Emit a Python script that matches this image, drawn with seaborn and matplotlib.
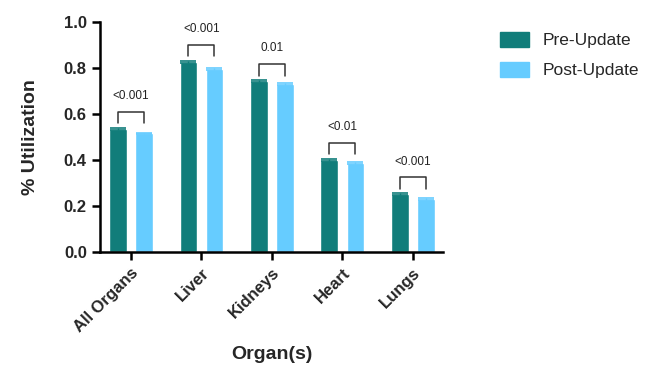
import matplotlib.pyplot as plt
import seaborn as sns
import pandas as pd
import numpy as np

# DATA
organs = ["All Organs", "Liver", "Kidneys", "Heart", "Lungs"]
pre_update = [0.535, 0.827, 0.743, 0.400, 0.251]
post_update = [0.516, 0.796, 0.730, 0.386, 0.229]
pre_err = [0.004, 0.004, 0.004, 0.006, 0.004]
post_err = [0.003, 0.004, 0.004, 0.005, 0.004]
p_labels = ["<0.001", "<0.001", "0.01", "<0.01", "<0.001"]
groups = ["Pre-Update", "Post-Update"]
colors = ["#117D7A", "#66CCFF"]

df = pd.DataFrame({
    "organ": organs * 2,
    "group": [groups[0]] * 5 + [groups[1]] * 5,
    "value": pre_update + post_update,
})

sns.set_style("ticks")
plt.rcParams["font.family"] = ["Liberation Sans", "DejaVu Sans"]

fig = plt.figure(figsize=(6.47, 3.67), dpi=100)
ax = fig.add_axes([0.1546, 0.3134, 0.5302, 0.6266])

sns.barplot(data=df, x="organ", y="value", hue="group", order=organs,
            hue_order=groups, palette=colors, width=0.74, gap=0.32,
            errorbar=None, saturation=1, ax=ax, legend=False)

# error bars at bar centres
for i, (vals, errs) in enumerate([(pre_update, pre_err), (post_update, post_err)]):
    bars = ax.containers[i]
    xs = [b.get_x() + b.get_width() / 2 for b in bars]
    ax.errorbar(xs, vals, yerr=errs, fmt="none", ecolor=colors[i],
                elinewidth=1, capsize=5.5, capthick=1.2)

# significance brackets
for j in range(len(organs)):
    b1 = ax.containers[0][j]
    b2 = ax.containers[1][j]
    x1 = b1.get_x() + b1.get_width() / 2
    x2 = b2.get_x() + b2.get_width() / 2
    top = max(pre_update[j], post_update[j]) + 0.074
    ax.plot([x1, x1, x2, x2], [top - 0.05, top, top, top - 0.05],
            color="#333333", lw=1.1)
    ax.text((x1 + x2) / 2, top + 0.042, p_labels[j], ha="center",
            va="bottom", fontsize=8.5, color="#222222")

ax.set_ylim(0, 1.0)
ax.set_xlim(-0.44, 4.43)
ax.set_yticks([0.0, 0.2, 0.4, 0.6, 0.8, 1.0])
ax.set_yticklabels(["0.0", "0.2", "0.4", "0.6", "0.8", "1.0"],
                   fontweight="bold", fontsize=12)
ax.set_xticks(range(len(organs)))
ax.set_xticklabels(organs, rotation=45, ha="right", rotation_mode="anchor",
                   fontweight="bold", fontsize=12)
ax.set_ylabel("% Utilization", fontweight="bold", fontsize=14, labelpad=18)
ax.set_xlabel("Organ(s)", fontweight="bold", fontsize=14, labelpad=8)

sns.despine(ax=ax)
for s in ["left", "bottom"]:
    ax.spines[s].set_linewidth(1.8)
    ax.spines[s].set_color("black")
ax.tick_params(axis="both", direction="out", length=6, width=1.8, color="black")

handles = [plt.Rectangle((0, 0), 1, 1, color=c) for c in colors]
fig.legend(handles, groups, loc="upper left", bbox_to_anchor=(0.748, 0.955),
           frameon=False, fontsize=12.5, handlelength=1.7, handleheight=0.9,
           labelspacing=0.8, handletextpad=0.8)

fig.savefig("out.png", dpi=100)
